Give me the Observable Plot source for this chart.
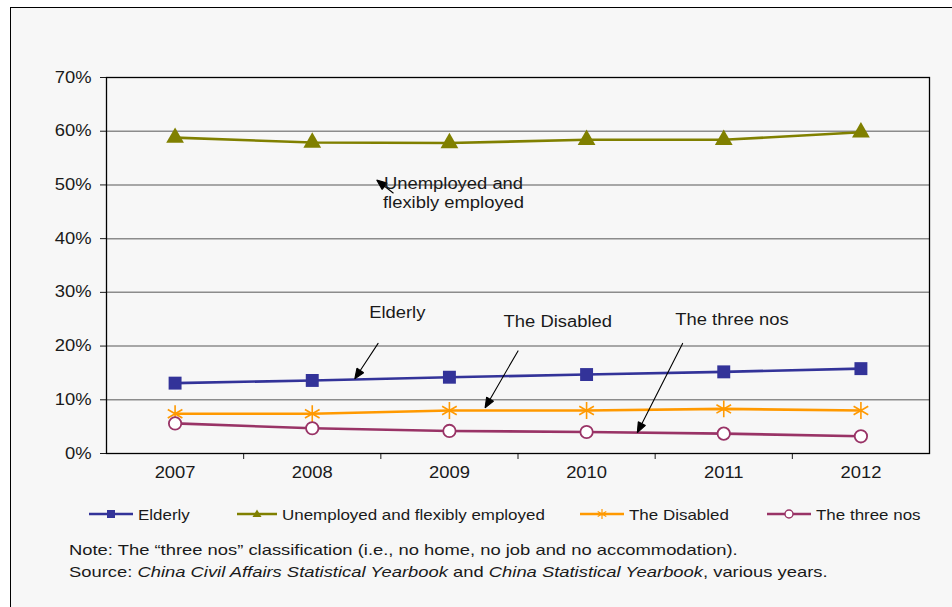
<!DOCTYPE html>
<html><head><meta charset="utf-8">
<script src="https://cdn.jsdelivr.net/npm/d3@7"></script>
<script src="https://cdn.jsdelivr.net/npm/@observablehq/plot@0.6"></script>
<style>
body{margin:0;background:#fff;font-family:"Liberation Sans",Arial,sans-serif;color:#1a1a1a}
#page{position:relative;width:952px;height:607px;overflow:hidden}
#panel{position:absolute;left:10px;top:7px;width:960px;height:620px;border-left:1.5px solid #000;border-top:1.5px solid #000;background:#f7f7f7}
#chart{position:absolute;left:0;top:0}
.leg{position:absolute;top:505px;height:18px;display:flex;align-items:center;font-size:15px;white-space:nowrap}
.leg svg{margin-right:5px}
.leg span{display:inline-block;transform-origin:left center;transform:scaleX(1.13)}
.note{position:absolute;left:69px;font-size:15px;white-space:nowrap;transform-origin:left center;transform:scaleX(1.225)}
</style></head>
<body><div id="page"><div id="panel"></div><div id="chart"></div><div id="legend"></div>
<div class="note" style="top:541px">Note: The “three nos” classification (i.e., no home, no job and no accommodation).</div>
<div class="note" style="top:563px">Source: <i>China Civil Affairs Statistical Yearbook</i> and <i>China Statistical Yearbook</i>, various years.</div>
</div>
<script>
const years = [2007, 2008, 2009, 2010, 2011, 2012];
const elderly = [13.1, 13.6, 14.2, 14.7, 15.2, 15.8];
const unemployed = [58.8, 57.9, 57.8, 58.4, 58.4, 59.8];
const disabled = [7.4, 7.4, 8.0, 8.0, 8.3, 8.0];
const threeNos = [5.6, 4.7, 4.2, 4.0, 3.7, 3.2];
const seriesNames = ["Elderly", "Unemployed and flexibly employed", "The Disabled", "The three nos"];
const seriesValues = [elderly, unemployed, disabled, threeNos];
const seriesColors = ["#333399", "#808000", "#ff9900", "#993366"];
const seriesSymbols = ["square", "triangle", "asterisk", "circle"];
const yTicks = [0, 10, 20, 30, 40, 50, 60, 70];
// annotation labels (data coordinates: year, percent)
const annLabels = [
  {text: "Unemployed and", x: 2009.03, y: 50.2},
  {text: "flexibly employed", x: 2009.03, y: 46.6},
  {text: "Elderly", x: 2008.62, y: 26.2},
  {text: "The Disabled", x: 2009.79, y: 24.5},
  {text: "The three nos", x: 2011.06, y: 24.8}
];
const annArrows = [
  {x1: 2008.59, y1: 48.5, x2: 2008.47, y2: 50.9},
  {x1: 2008.48, y1: 20.5, x2: 2008.31, y2: 13.9},
  {x1: 2009.50, y1: 19.1, x2: 2009.26, y2: 8.5},
  {x1: 2010.70, y1: 20.5, x2: 2010.37, y2: 3.9}
];

const rows = [];
seriesNames.forEach((s, i) => years.forEach((yr, j) => rows.push({series: s, year: yr, value: seriesValues[i][j]})));

const marks = [
  Plot.ruleY(yTicks.slice(1, -1), {stroke: "#8c8c8c", strokeWidth: 1.5}),
  Plot.frame({stroke: "#000", strokeWidth: 1.3}),
  Plot.text(years, {x: d => d, y: 0, dy: 19, text: d => String(d), fontSize: 16, fill: "#1a1a1a"})
];
seriesNames.forEach((s, i) => {
  const d = rows.filter(r => r.series === s);
  marks.push(Plot.line(d, {x: "year", y: "value", stroke: seriesColors[i], strokeWidth: 2.6}));
  const sym = seriesSymbols[i];
  marks.push(Plot.dot(d, {
    x: "year", y: "value", symbol: sym,
    r: sym === "circle" ? 6.2 : sym === "asterisk" ? 8 : sym === "triangle" ? 6.6 : 7.3,
    fill: sym === "circle" ? "#fff" : sym === "asterisk" ? "none" : seriesColors[i],
    stroke: seriesColors[i], strokeWidth: sym === "asterisk" ? 1.6 : (sym === "circle" ? 1.8 : 0)
  }));
});
marks.push(Plot.arrow(annArrows, {x1: "x1", y1: "y1", x2: "x2", y2: "y2", stroke: "#000", strokeWidth: 1.1, headLength: 11, headAngle: 45, bend: 0}));
marks.push(Plot.text(annLabels, {x: "x", y: "y", text: "text", fontSize: 16, fill: "#1a1a1a"}));

const chart = Plot.plot({
  width: 952, height: 490,
  marginLeft: 106, marginRight: 23, marginTop: 77, marginBottom: 37,
  style: {background: "transparent", fontFamily: "Liberation Sans, Arial, sans-serif", fontSize: "16px", color: "#1a1a1a"},
  x: {domain: [2006.5, 2012.5], ticks: years.slice(0, -1).map(y => y + 0.5), tickFormat: () => "", tickSize: 6, label: null, line: false},
  y: {domain: [0, 70], ticks: yTicks, tickFormat: d => d + "%", tickSize: 6, tickPadding: 9, label: null},
  marks
});
document.getElementById("chart").appendChild(chart);
// filled arrowheads like the reference: rebuild each arrow path from the positions Plot computed
chart.querySelectorAll('g[aria-label="arrow"] path').forEach(p => {
  const n = (p.getAttribute("d").match(/-?\d*\.?\d+(?:e-?\d+)?/g) || []).map(Number);
  if (n.length < 4) return;
  const [x1, y1, x2, y2] = n;
  const dx = x2 - x1, dy = y2 - y1, len = Math.hypot(dx, dy) || 1;
  const ux = dx / len, uy = dy / len, hl = 10, hw = 4;
  const bx = x2 - ux * hl, by = y2 - uy * hl;
  const d = `M${x1},${y1}L${bx},${by}M${x2},${y2}L${bx - uy * hw},${by + ux * hw}L${bx + uy * hw},${by - ux * hw}Z`;
  p.setAttribute("d", d);
  p.setAttribute("fill", "#000");
  p.setAttribute("stroke-linejoin", "miter");
});
// widen glyphs horizontally like the reference rendering
chart.querySelectorAll("text").forEach(t => {
  const tspans = t.querySelectorAll("tspan");
  const els = tspans.length ? tspans : [t];
  els.forEach(e => {
    const L = e.getComputedTextLength();
    if (L > 0) { e.setAttribute("textLength", (L * 1.15).toFixed(1)); e.setAttribute("lengthAdjust", "spacingAndGlyphs"); }
  });
});

// legend
const legX = [89, 237, 580, 767];
const legW = [44, 40, 44, 44];
const leg = document.getElementById("legend");
seriesNames.forEach((s, i) => {
  const div = document.createElement("div");
  div.className = "leg";
  div.style.left = legX[i] + "px";
  const w = legW[i], c = seriesColors[i], cx = w / 2;
  let m = "";
  if (seriesSymbols[i] === "square") m = `<rect x="${cx-4}" y="5" width="8" height="8" fill="${c}"/>`;
  if (seriesSymbols[i] === "triangle") m = `<path d="M${cx},4.5 L${cx+4.5},12 L${cx-4.5},12 Z" fill="${c}"/>`;
  if (seriesSymbols[i] === "asterisk") m = `<path d="M${cx},4 V14 M${cx-4.3},6.5 L${cx+4.3},11.5 M${cx-4.3},11.5 L${cx+4.3},6.5" stroke="${c}" stroke-width="1.2"/>`;
  if (seriesSymbols[i] === "circle") m = `<circle cx="${cx}" cy="9" r="4" fill="#fff" stroke="${c}" stroke-width="1.4"/>`;
  div.innerHTML = `<svg width="${w}" height="18"><line x1="0" x2="${w}" y1="9" y2="9" stroke="${c}" stroke-width="2.6"/>${m}</svg><span>${s}</span>`;
  leg.appendChild(div);
});
</script>
</body></html>
